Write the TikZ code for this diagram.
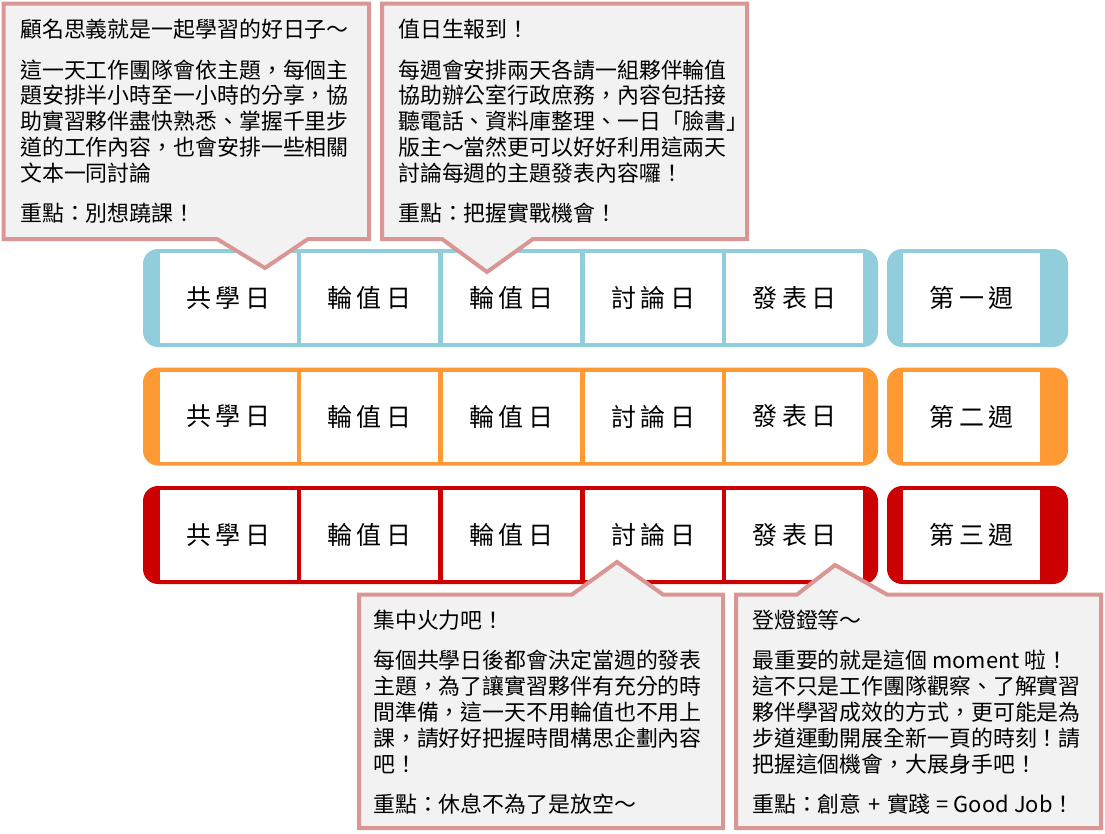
\documentclass[tikz,border=0pt]{standalone}
\usepackage{fontspec}
\setmainfont{Noto Sans CJK TC}
\newfontfamily\cellfont[LetterSpace=18]{Noto Sans CJK TC}
\definecolor{rowblue}{HTML}{92CDDC}
\definecolor{roworange}{HTML}{FF9933}
\definecolor{rowred}{HTML}{CC0000}
\definecolor{calline}{HTML}{D99694}
\definecolor{calfill}{HTML}{F2F2F2}
\tikzset{
  cellbox/.style={fill=white, inner sep=0pt, minimum width=137pt, minimum height=90pt,
    font=\cellfont\fontsize{25}{25}\selectfont},
  callout/.style={fill=calfill, draw=calline, line width=4pt, line join=miter},
  caltext/.style={anchor=base west, inner sep=0pt, align=left}
}
\newcommand\calbody[1]{\parbox[t]{360pt}{\fontsize{21.9}{25.8}\selectfont #1}}
\newcommand\weekrow[4]{%
  % #1 colour, #2 top, #3 row id, #4 week label
  \fill[#1, rounded corners=15pt] (143,#2) rectangle (878,#2+98);
  \fill[#1, rounded corners=15pt] (887,#2) rectangle (1068,#2+98);
  \node[cellbox] (#3a) at (228,#2+49) {共學日};
  \node[cellbox] (#3b) at (369,#2+49) {輪值日};
  \node[cellbox] (#3c) at (511,#2+49) {輪值日};
  \node[cellbox] (#3d) at (653,#2+49) {討論日};
  \node[cellbox] (#3e) at (794.5,#2+49) {發表日};
  \node[cellbox] (#3w) at (971.5,#2+49) {#4};
}
\begin{document}
\begin{tikzpicture}[x=1pt,y=-1pt]
\useasboundingbox (0,0) rectangle (1105,833);

\weekrow{rowblue}{249}{r1}{第一週}
\weekrow{roworange}{367.5}{r2}{第二週}
\weekrow{rowred}{486}{r3}{第三週}

% callout 1
\draw[callout] (3.5,3.5) -- (369,3.5) -- (369,239) -- (308,239) -- (265,268) -- (217,239) -- (3.5,239) -- cycle;
\node[caltext] (t1) at (20,37.8) {\calbody{顧名思義就是一起學習的好日子～\\[14.5pt]
這一天工作團隊會依主題，每個主\\
題安排半小時至一小時的分享，協\\
助實習夥伴盡快熟悉、掌握千里步\\
道的工作內容，也會安排一些相關\\
文本一同討論\\[14.5pt]
重點：別想蹺課！}};

% callout 2
\draw[callout] (382,3.5) -- (747,3.5) -- (747,239) -- (533,239) -- (487,272) -- (442,239) -- (382,239) -- cycle;
\node[caltext] (t2) at (398,37.8) {\calbody{值日生報到！\\[14.5pt]
每週會安排兩天各請一組夥伴輪值\\
協助辦公室行政庶務，內容包括接\\
聽電話、資料庫整理、一日「臉書」\\
版主～當然更可以好好利用這兩天\\
討論每週的主題發表內容囉！\\[14.5pt]
重點：把握實戰機會！}};

% callout 3
\draw[callout] (359,594.5) -- (572,594.5) -- (617,562) -- (663,594.5) -- (723,594.5) -- (723,828) -- (359,828) -- cycle;
\node[caltext] (t3) at (373,628.5) {\calbody{集中火力吧！\\[14.5pt]
每個共學日後都會決定當週的發表\\
主題，為了讓實習夥伴有充分的時\\
間準備，這一天不用輪值也不用上\\
課，請好好把握時間構思企劃內容\\
吧！\\[14.5pt]
重點：休息不為了是放空～}};

% callout 4
\draw[callout] (736,594.5) -- (797,594.5) -- (835,565) -- (887,594.5) -- (1101,594.5) -- (1101,828) -- (736,828) -- cycle;
\node[caltext] (t4) at (752,628.5) {\calbody{登燈鐙等～\\[14.5pt]
最重要的就是這個 moment 啦！\\
這不只是工作團隊觀察、了解實習\\
夥伴學習成效的方式，更可能是為\\
步道運動開展全新一頁的時刻！請\\
把握這個機會，大展身手吧！\\[14.5pt]
重點：創意\hspace{0.3em}+\hspace{0.3em}實踐\hspace{0.25em}=\hspace{0.25em}Good Job！}};
\end{tikzpicture}
\end{document}
